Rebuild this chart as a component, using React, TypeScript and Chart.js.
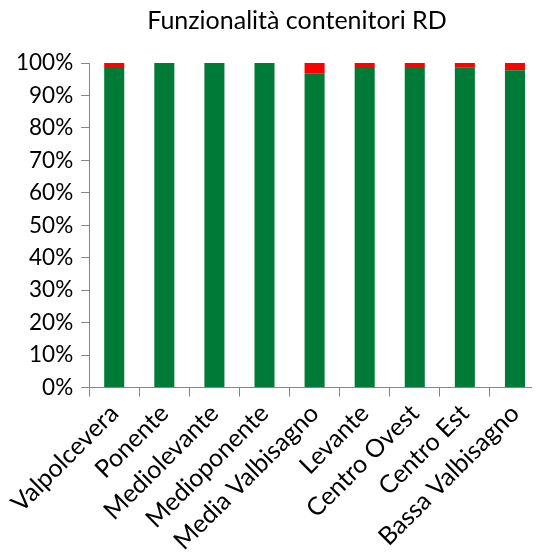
import React, { useEffect, useRef } from "react";
import { Chart, registerables } from "chart.js";

Chart.register(...registerables);

const titleText = "Funzionalità contenitori RD";
const categories = [
  "Valpolcevera",
  "Ponente",
  "Mediolevante",
  "Medioponente",
  "Media Valbisagno",
  "Levante",
  "Centro Ovest",
  "Centro Est",
  "Bassa Valbisagno",
];
const funzionanti = [98.8, 100, 100, 100, 96.7, 98.8, 98.8, 98.5, 97.8];
const nonFunzionanti = [1.2, 0, 0, 0, 3.3, 1.2, 1.2, 1.5, 2.2];
const yTicks = [0, 10, 20, 30, 40, 50, 60, 70, 80, 90, 100];

const FONT = "Lato";

const titlePlugin = {
  id: "customTitle",
  afterDraw(chart: any) {
    const ctx = chart.ctx;
    ctx.save();
    ctx.font = `25px ${FONT}`;
    ctx.fillStyle = "#000";
    ctx.textAlign = "center";
    ctx.textBaseline = "alphabetic";
    ctx.fillText(titleText, 289, 21);
    ctx.restore();
  },
};

export default function App() {
  const ref = useRef<HTMLCanvasElement>(null);
  useEffect(() => {
    document.documentElement.style.overflow = "hidden";
    document.body.style.overflow = "hidden";
    const chart = new Chart(ref.current!, {
      type: "bar",
      data: {
        labels: categories,
        datasets: [
          {
            label: "Funzionanti",
            data: funzionanti,
            backgroundColor: "#007A37",
            categoryPercentage: 1,
            barPercentage: 0.4,
          },
          {
            label: "Non funzionanti",
            data: nonFunzionanti,
            backgroundColor: "#FF0000",
            categoryPercentage: 1,
            barPercentage: 0.4,
          },
        ],
      },
      options: {
        animation: false,
        responsive: false,
        layout: { padding: { top: 55, right: -8, left: 0, bottom: -2 } },
        plugins: {
          legend: { display: false },
          title: { display: false },
          tooltip: { enabled: false },
        },
        scales: {
          x: {
            stacked: true,
            grid: {
              display: true,
              offset: true,
              drawOnChartArea: false,
              drawTicks: true,
              tickLength: 9,
              color: "#868686",
            },
            border: { display: true, color: "#868686", width: 1 },
            ticks: {
              minRotation: 45,
              maxRotation: 45,
              autoSkip: false,
              color: "#000",
              font: { family: FONT, size: 25 },
              padding: 2,
            },
          },
          y: {
            stacked: true,
            min: 0,
            max: 100,
            afterBuildTicks(axis: any) {
              axis.ticks = yTicks.map((v) => ({ value: v }));
            },
            grid: {
              display: true,
              drawOnChartArea: false,
              drawTicks: true,
              tickLength: 8,
              color: "#868686",
            },
            border: { display: true, color: "#868686", width: 1 },
            ticks: {
              color: "#000",
              font: { family: FONT, size: 22.5 },
              padding: 8,
              callback: (v: any) => v + "%",
            },
          },
        },
      },
      plugins: [titlePlugin],
    });
    return () => chart.destroy();
  }, []);
  return (
    <div style={{ width: 532, height: 548 }}>
      <canvas ref={ref} width={532} height={548} style={{ display: "block" }} />
    </div>
  );
}
